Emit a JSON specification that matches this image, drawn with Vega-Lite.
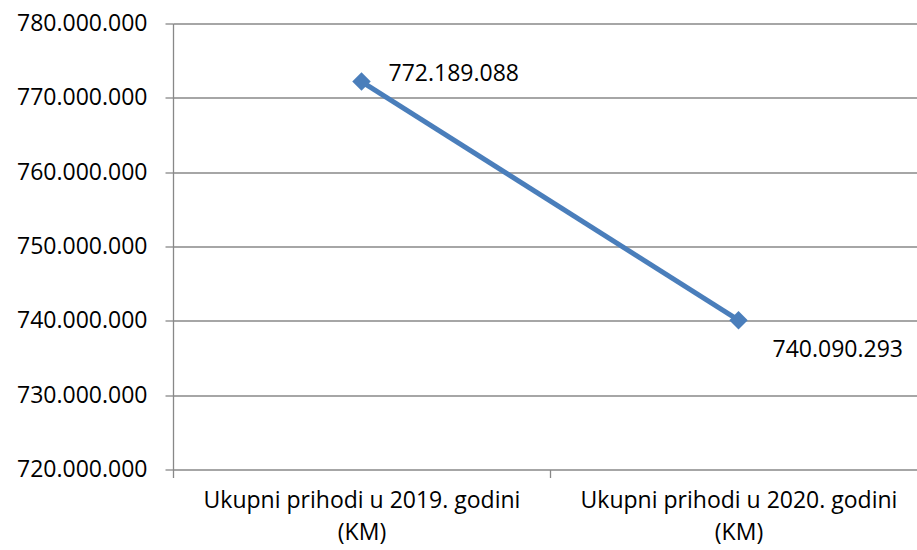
{
  "$schema": "https://vega.github.io/schema/vega-lite/v6.json",
  "width": 744,
  "height": 446,
  "autosize": {"type": "none"},
  "padding": {"left": 173, "top": 23.5, "right": 0, "bottom": 80.5},
  "config": {
    "locale": {"number": {"decimal": ",", "thousands": ".", "grouping": [3], "currency": ["", ""]}},
    "view": {"stroke": null},
    "font": "Open Sans"
  },
  "data": {
    "values": [
      {"kategorija": "Ukupni prihodi u 2019. godini (KM)", "prihodi": 772189088},
      {"kategorija": "Ukupni prihodi u 2020. godini (KM)", "prihodi": 740090293}
    ]
  },
  "encoding": {
    "x": {
      "field": "kategorija",
      "type": "nominal",
      "sort": null,
      "scale": {"type": "band", "range": [0, 754], "paddingInner": 0, "paddingOuter": 0},
      "axis": {
        "title": null,
        "labelAngle": 0,
        "tickBand": "extent",
        "domain": false,
        "ticks": true,
        "tickSize": 8,
        "tickColor": "#888888",
        "tickWidth": 1.3,
        "grid": false,
        "labelFont": "Open Sans",
        "labelFontSize": 23,
        "labelColor": "#000000",
        "labelPadding": 12,
        "labelBaseline": "top",
        "labelLineHeight": 32,
        "labelLimit": 0,
        "labelOverlap": false,
        "labelFlush": false,
        "labelExpr": "indexof(datum.label + '', 'Ukupni') >= 0 ? [replace(datum.label, ' (KM)', ''), '(KM)'] : ''"
      }
    },
    "y": {
      "field": "prihodi",
      "type": "quantitative",
      "scale": {"domain": [720000000, 780000000], "nice": false, "zero": false},
      "axis": {
        "title": null,
        "values": [720000000, 730000000, 740000000, 750000000, 760000000, 770000000, 780000000],
        "format": ",d",
        "domain": true,
        "domainColor": "#888888",
        "domainWidth": 1.3,
        "tickSize": 8,
        "tickColor": "#888888",
        "tickWidth": 1.3,
        "grid": true,
        "gridColor": "#888888",
        "gridWidth": 1.3,
        "labelFont": "Open Sans",
        "labelFontSize": 23,
        "labelColor": "#000000",
        "labelPadding": 18
      }
    }
  },
  "layer": [
    {"mark": {"type": "line", "color": "#4A7EBB", "strokeWidth": 5}},
    {"mark": {"type": "point", "shape": "diamond", "filled": true, "size": 340, "color": "#4A7EBB", "opacity": 1}},
    {
      "transform": [{"filter": "datum.prihodi > 760000000"}],
      "mark": {"type": "text", "align": "left", "baseline": "middle", "dx": 27, "dy": -8, "fontSize": 23, "font": "Open Sans", "color": "#000000"},
      "encoding": {"text": {"field": "prihodi", "type": "quantitative", "format": ",d"}}
    },
    {
      "transform": [{"filter": "datum.prihodi < 760000000"}],
      "mark": {"type": "text", "align": "left", "baseline": "middle", "dx": 34, "dy": 30, "fontSize": 23, "font": "Open Sans", "color": "#000000"},
      "encoding": {"text": {"field": "prihodi", "type": "quantitative", "format": ",d"}}
    }
  ]
}
